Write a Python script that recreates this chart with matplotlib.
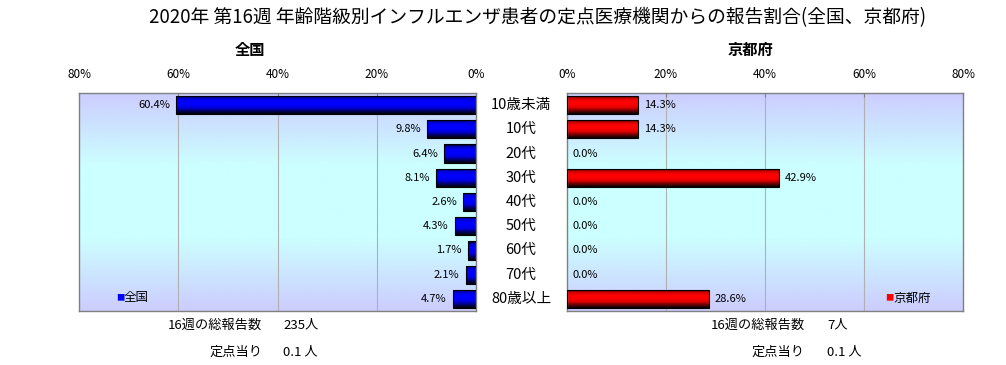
import numpy as np
import matplotlib
matplotlib.use("Agg")
import matplotlib.pyplot as plt
from matplotlib.colors import LinearSegmentedColormap

plt.rcParams['font.family'] = ['Noto Sans CJK JP', 'DejaVu Sans']

# ---- data ----
categories = ["10歳未満", "10代", "20代", "30代", "40代", "50代", "60代", "70代", "80歳以上"]
national = [60.4, 9.8, 6.4, 8.1, 2.6, 4.3, 1.7, 2.1, 4.7]
kyoto = [14.3, 14.3, 0.0, 42.9, 0.0, 0.0, 0.0, 0.0, 28.6]
xticks = [0, 20, 40, 60, 80]
xticklabels = ["0%", "20%", "40%", "60%", "80%"]
title = "2020年 第16週 年齢階級別インフルエンザ患者の定点医療機関からの報告割合(全国、京都府)"
panel_titles = ["全国", "京都府"]
total_label = "16週の総報告数"
per_label = "定点当り"
national_total = "235人"
kyoto_total = "7人"
national_per = "0.1 人"
kyoto_per = "0.1 人"

W, H = 1006, 365
fig = plt.figure(figsize=(W / 100, H / 100), dpi=100)
fig.patch.set_facecolor("white")

def px(x0, y0, x1, y1):
    return [x0 / W, 1 - y1 / H, (x1 - x0) / W, (y1 - y0) / H]

axL = fig.add_axes(px(79, 93, 476, 311))
axR = fig.add_axes(px(567, 93, 963, 311))

bg_cmap = LinearSegmentedColormap.from_list("bg", ["#ccccff", "#ccffff", "#ccffff", "#ccccff"])
blue_cmap = LinearSegmentedColormap.from_list("bl", ["#000000", "#0000cc", "#0000ff", "#0000ff", "#0000dd", "#000066", "#000000"])
red_cmap = LinearSegmentedColormap.from_list("rd", ["#000000", "#cc0000", "#ff0000", "#ff0000", "#dd0000", "#660000", "#000000"])

grad = np.linspace(0, 1, 256).reshape(-1, 1)
y = np.arange(len(categories))

def setup(ax, values, cmap, left):
    ax.imshow(grad, cmap=bg_cmap, extent=[0, 1, 0, 1], transform=ax.transAxes,
              aspect="auto", zorder=0, origin="upper")
    bars = ax.barh(y, values, height=0.75, color="none", edgecolor="black", linewidth=0.8, zorder=3)
    for b in bars:
        if b.get_width() <= 0:
            b.set_visible(False)
            continue
        x0, y0 = b.get_x(), b.get_y()
        im = ax.imshow(grad, cmap=cmap, extent=[x0, x0 + b.get_width(), y0 + b.get_height(), y0],
                       aspect="auto", zorder=2, origin="upper")
        im.set_clip_path(b)
    for yi, v in zip(y, values):
        lab = f"{v:.1f}%"
        ax.text(v + 1.2, yi, lab, ha="right" if left else "left", va="center",
                fontsize=8, zorder=4)
    ax.set_ylim(len(categories) - 0.5, -0.5)
    if left:
        ax.set_xlim(80, 0)
    else:
        ax.set_xlim(0, 80)
    ax.set_yticks([])
    ax.xaxis.tick_top()
    ax.set_xticks(xticks)
    ax.set_xticklabels(xticklabels, fontsize=8.5)
    ax.tick_params(axis="x", length=3, direction="in", pad=9, color="#808080")
    for t in [20, 40, 60]:
        ax.axvline(t, color="#b0b0b0", linewidth=0.8, zorder=1)
    for s in ax.spines.values():
        s.set_color("#808080")
        s.set_linewidth(1.0)

setup(axL, national, blue_cmap, True)
setup(axR, kyoto, red_cmap, False)

# category labels
for yi, c in zip(y, categories):
    yd = axL.transData.transform((0, yi))[1]
    fig.text(521 / W, yd / H, c, ha="center", va="center", fontsize=10.5)

# legends
fig.text(116 / W, 1 - 298 / H, "■", color="#0000ff", fontsize=6, va="center", ha="left")
fig.text(124 / W, 1 - 298 / H, "全国", fontsize=9, va="center", ha="left")
fig.text(885 / W, 1 - 298 / H, "■", color="#ff0000", fontsize=6, va="center", ha="left")
fig.text(893 / W, 1 - 298 / H, "京都府", fontsize=9, va="center", ha="left")

# titles
fig.text(538 / W, 1 - 18 / H, title, ha="center", va="center", fontsize=13.5)
fig.text(250 / W, 1 - 50 / H, panel_titles[0], ha="center", va="center", fontsize=11, fontweight="bold")
fig.text(750 / W, 1 - 50 / H, panel_titles[1], ha="center", va="center", fontsize=11, fontweight="bold")

# bottom notes
for (xr, xv, tot, per) in [(262, 283, national_total, national_per), (805, 827, kyoto_total, kyoto_per)]:
    fig.text(xr / W, 1 - 325 / H, total_label, ha="right", va="center", fontsize=9.5)
    fig.text(xv / W, 1 - 325 / H, tot, ha="left", va="center", fontsize=9.5)
    fig.text(xr / W, 1 - 352 / H, per_label, ha="right", va="center", fontsize=9.5)
    fig.text(xv / W, 1 - 352 / H, per, ha="left", va="center", fontsize=9.5)

fig.savefig("out.png", dpi=100)
